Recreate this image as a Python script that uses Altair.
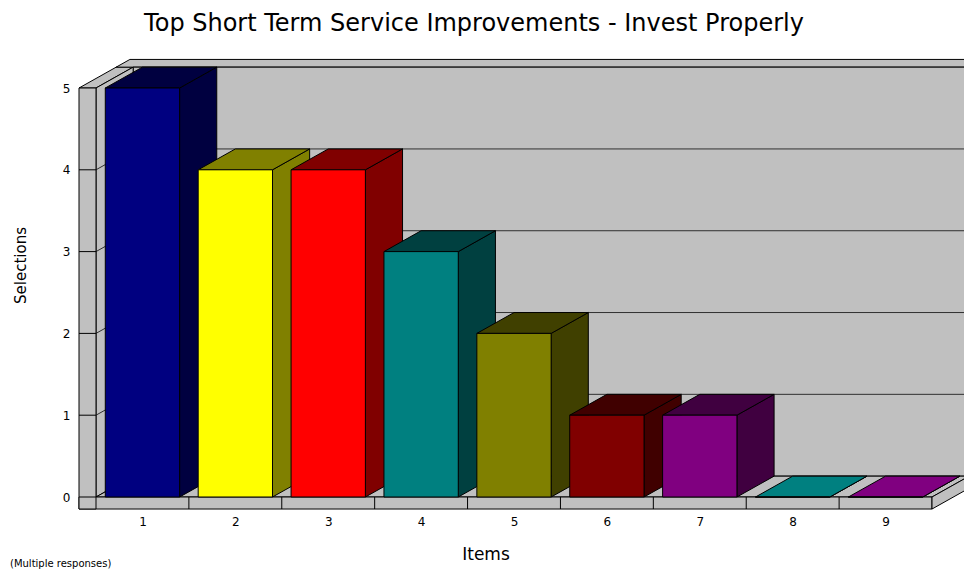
import altair as alt
import pandas as pd

# ---------------- data ----------------
categories = [1, 2, 3, 4, 5, 6, 7, 8, 9]
selections = [5, 4, 4, 3, 2, 1, 1, 0, 0]
front_colors = ["#000080", "#FFFF00", "#FF0000", "#008080", "#808000",
                "#800000", "#800080", "#008080", "#800080"]
side_colors = ["#000040", "#808000", "#800000", "#004040", "#404000",
               "#400000", "#400040", "#004040", "#400040"]
top_colors = ["#000040", "#808000", "#800000", "#004040", "#404000",
              "#400000", "#400040", "#008080", "#800080"]
y_ticks = [0, 1, 2, 3, 4, 5]
grid_values = [1, 2, 3, 4]
title_text = "Top Short Term Service Improvements - Invest Properly"
x_title = "Items"
y_title = "Selections"
footnote = "(Multiple responses)"

# ---------------- 3D geometry (in data units) ----------------
BW = 0.40      # half bar width
DX = 0.40      # depth offset, x
DY = 0.255     # depth offset, y
T = 0.37       # back wall thickness (fraction of depth)
X0 = 0.5       # inner left edge of front plane
XL = 0.317     # outer edge of left wall
XR = 9.5       # right end of floor
YB = -0.147    # floor bottom
YMAX = 5
GRAY = "#C0C0C0"
FONT = "DejaVu Sans"

xs = alt.Scale(domain=[0.5, 9.5], nice=False, zero=False)
ys = alt.Scale(domain=[0, 5], nice=False, zero=False)

x_axis = alt.Axis(values=categories, format="d", title=x_title, domain=False,
                  ticks=False, grid=False, labelPadding=19, labelFont=FONT,
                  labelFontSize=12, labelColor="black", labelFlush=False,
                  labelOverlap=False, titleFont=FONT, titleFontSize=17,
                  titleFontWeight="normal", titleColor="black", titleX=389.5,
                  titleY=62, titleAlign="center", titleBaseline="alphabetic")
y_axis = alt.Axis(values=y_ticks, format="d", title=y_title, domain=False,
                  ticks=False, grid=False, labelPadding=26, labelFont=FONT,
                  labelFontSize=12, labelColor="black", labelFlush=False,
                  labelOverlap=False, titleFont=FONT, titleFontSize=15,
                  titleFontWeight="normal", titleColor="black", titleX=-71,
                  titleY=177, titleAngle=270, titleAlign="center",
                  titleBaseline="alphabetic")


def X(f):
    return alt.X(f, type="quantitative", scale=xs, axis=x_axis, stack=None)


def Y(f):
    return alt.Y(f, type="quantitative", scale=ys, axis=y_axis, stack=None)


def varea(rows):
    """rows: (id, x, top, bottom, fill)"""
    df = pd.DataFrame(rows, columns=["id", "x", "top", "bot", "fill"])
    return alt.Chart(df).mark_area(orient="vertical", stroke="black",
                                   strokeWidth=1, opacity=1).encode(
        x=X("x"), y=Y("top"), y2=alt.Y2("bot"), detail="id:N",
        color=alt.Color("fill:N", scale=None))


def harea(rows):
    """rows: (id, y, xa, xb, fill)"""
    df = pd.DataFrame(rows, columns=["id", "y", "xa", "xb", "fill"])
    return alt.Chart(df).mark_area(orient="horizontal", stroke="black",
                                   strokeWidth=1, opacity=1).encode(
        y=Y("y"), x=X("xa"), x2=alt.X2("xb"), detail="id:N",
        color=alt.Color("fill:N", scale=None))


def rects(rows):
    """rows: (xa, xb, ya, yb, fill)"""
    df = pd.DataFrame(rows, columns=["xa", "xb", "ya", "yb", "fill"])
    return alt.Chart(df).mark_rect(stroke="black", strokeWidth=1).encode(
        x=X("xa"), x2=alt.X2("xb"), y=Y("ya"), y2=alt.Y2("yb"),
        color=alt.Color("fill:N", scale=None))


S = 1 + T
# back wall right side face
back_side = varea([
    ("bs", XR + DX, YMAX + DY, YB + DY, GRAY),
    ("bs", XR + DX * S, YMAX + DY * S, YB + DY * S, GRAY),
])
# top faces of left wall and back wall
tops_walls = harea([
    ("lt", YMAX, XL, X0, GRAY),
    ("lt", YMAX + DY, XL + DX, X0 + DX, GRAY),
    ("bt", YMAX + DY, XL + DX, XR + DX, GRAY),
    ("bt", YMAX + DY * S, XL + DX * S, XR + DX * S, GRAY),
])
# back wall front face
back_front = rects([(X0 + DX, XR + DX, DY, YMAX + DY, GRAY)])
# left wall inner face
left_inner = varea([
    ("li", X0, YMAX, 0, GRAY),
    ("li", X0 + DX, YMAX + DY, DY, GRAY),
])
# gridlines (left inner wall + back wall + right edge)
g_rows = []
for v in grid_values:
    g_rows += [(v, 0, X0, v), (v, 1, X0 + DX, v + DY),
               (v, 2, XR + DX, v + DY), (v, 3, XR + DX * S, v + DY * S)]
grid_df = pd.DataFrame(g_rows, columns=["v", "k", "x", "y"])
gridlines = alt.Chart(grid_df).mark_line(color="#303030", strokeWidth=1).encode(
    x=X("x"), y=Y("y"), detail="v:N", order=alt.Order("k:Q"))
# floor
floor_top = harea([
    ("ft", 0, X0, XR, GRAY),
    ("ft", DY, X0 + DX, XR + DX, GRAY),
])
floor_front = rects([(XL, XR, YB, 0, GRAY)])
floor_side = varea([
    ("fs", XR, 0, YB, GRAY),
    ("fs", XR + DX, DY, YB + DY, GRAY),
])
left_front = rects([(XL, X0, YB, YMAX, GRAY)])
# ticks on the left wall front face
tick_df = pd.DataFrame({"v": y_ticks[:-1]})
tick_df["xa"] = XL
tick_df["xb"] = X0
wall_ticks = alt.Chart(tick_df).mark_rule(color="black", strokeWidth=1).encode(
    x=X("xa"), x2=alt.X2("xb"), y=Y("v"))
# category separators on the floor front face
sep_df = pd.DataFrame({"x": [c + 0.5 for c in categories[:-1]]})
sep_df["ya"] = YB
sep_df["yb"] = 0
separators = alt.Chart(sep_df).mark_rule(color="black", strokeWidth=1).encode(
    x=X("x"), y=Y("ya"), y2=alt.Y2("yb"))

# bars
side_rows, top_rows, front_rows = [], [], []
for c, v, fc, sc, tc in zip(categories, selections, front_colors,
                            side_colors, top_colors):
    side_rows += [(c, c + BW, v, 0, sc), (c, c + BW + DX, v + DY, DY, sc)]
    top_rows += [(c, v, c - BW, c + BW, tc), (c, v + DY, c - BW + DX, c + BW + DX, tc)]
    front_rows.append((c - BW, c + BW, 0, v, fc))
bar_sides = varea(side_rows)
bar_tops = harea(top_rows)
bar_fronts = rects(front_rows)

# texts
title_df = pd.DataFrame({"t": [title_text]})
title_mark = alt.Chart(title_df).mark_text(
    font=FONT, fontSize=24, align="center", baseline="alphabetic",
    color="black").encode(text="t:N", x=alt.value(378), y=alt.value(-57))
foot_df = pd.DataFrame({"t": [footnote]})
foot_mark = alt.Chart(foot_df).mark_text(
    font=FONT, fontSize=10, align="left", baseline="alphabetic",
    color="black").encode(text="t:N", x=alt.value(-86), y=alt.value(479))

chart = alt.layer(
    back_side, tops_walls, back_front, left_inner, gridlines,
    floor_top, floor_front, floor_side, left_front, wall_ticks, separators,
    bar_sides, bar_tops, bar_fronts, title_mark, foot_mark,
).properties(
    width=836, height=409,
    autosize=alt.AutoSizeParams(type="none"),
    padding={"left": 88, "top": 80, "right": 32, "bottom": 76},
    background="white",
).configure_view(stroke=None)

chart.save("out.html", embed_options={"renderer": "svg", "actions": False})
